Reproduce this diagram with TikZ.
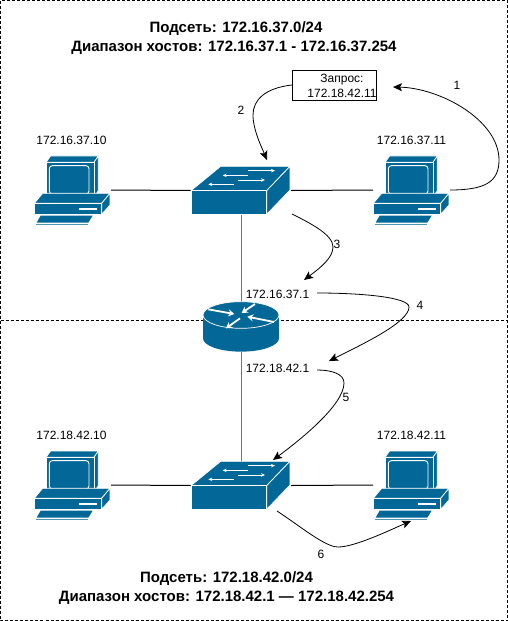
\documentclass[tikz,border=0pt]{standalone}
\usepackage{fontspec}
\setmainfont{Liberation Sans}
\usetikzlibrary{arrows.meta}
\definecolor{cisco}{HTML}{036897}
\tikzset{
  fillc/.style={fill=cisco,draw=white,line width=0.7pt,line join=round},
  wl/.style={draw=white,line width=0.9pt},
  warr/.style={draw=white,line width=0.9pt,-{Stealth[length=4pt,width=3.5pt]}},
  warb/.style={draw=white,line width=1.8pt,-{Stealth[length=6pt,width=7pt]}},
  iconbox/.style={inner sep=0pt,outer sep=0pt,minimum width=#1},
  lbl/.style={font=\fontsize{12}{15}\selectfont,inner sep=0pt},
  ttl/.style={font=\bfseries\fontsize{15}{18.5}\selectfont,inner sep=0pt,align=center},
  link/.style={draw=black,line width=1pt},
  curve/.style={draw=black,line width=0.8pt,-{Stealth[length=9pt,width=8pt,inset=2pt]}},
  border/.style={draw=black,line width=0.7pt,dash pattern=on 3pt off 2pt},
  pc/.pic={
    \begin{scope}[x=0.3333pt,y=-0.3333pt]
      \path[fillc] (78,127)--(92,108)--(235,108)--(222,127)--cycle;
      \path[fillc] (222,127)--(235,108)--(235,212)--(222,232)--cycle;
      \path[fillc] (78,127) rectangle (222,232);
      \path[wl,fill=cisco,rounded corners=3pt] (88,137) rectangle (207,222);
      \path[fillc] (43,250)--(68,220)--(270,220)--(245,250)--cycle;
      \path[fillc] (245,250)--(270,220)--(270,255)--(245,283)--cycle;
      \path[fillc] (43,250) rectangle (245,283);
      \path[fill=white] (178,265) rectangle (230,271);
      \path[fill=cisco] (62,287)--(218,287)--(205,308)--(50,308)--cycle;
      \path[draw=cisco!70,line width=0.8pt] (48,312)--(205,312);
    \end{scope}
  },
  sw/.pic={
    \begin{scope}[x=0.3333pt,y=-0.3333pt]
      \path[fillc] (33,122)--(122,49)--(330,49)--(260,122)--cycle;
      \path[fillc] (260,122)--(330,49)--(330,120)--(260,193)--cycle;
      \path[fillc] (33,122) rectangle (260,193);
      \path[warr] (205,62)--(285,62);
      \path[warr] (205,76)--(128,76);
      \path[warr] (175,90)--(255,90);
      \path[warr] (162,103)--(85,103);
    \end{scope}
  },
  rt/.pic={
    \begin{scope}[x=0.3333pt,y=-0.3333pt]
      \path[fill=cisco] (39,105)--(39,175) arc[start angle=180,end angle=0,x radius=114,y radius=40]--(267,105)--cycle;
      \path[fill=cisco,draw=white,line width=0.7pt] (153,105) ellipse[x radius=114,y radius=40];
      \path[warb] (55,88)--(133,102);
      \path[warb] (195,72)--(155,99);
      \path[warb] (150,115)--(108,145);
      \path[warb] (252,126)--(172,110);
    \end{scope}
  }
}
\begin{document}
\begin{tikzpicture}[x=1pt,y=-1pt]
\useasboundingbox (0,0) rectangle (508,621);
\path[fill=white] (0,0) rectangle (508,621);
\path[border] (0.5,0.5) rectangle (507.5,620.5);
\path[border] (0.5,320.5) -- (507.5,320.5);

% anchor boxes
\node[iconbox=77pt,minimum height=72pt] (pc1) at (72.5,190) {};
\node[iconbox=77pt,minimum height=72pt] (pc2) at (411.5,190) {};
\node[iconbox=77pt,minimum height=72pt] (pc3) at (72.5,485) {};
\node[iconbox=77pt,minimum height=72pt] (pc4) at (411.5,485) {};
\node[iconbox=100pt,minimum height=48pt] (sw1) at (241,190.5) {};
\node[iconbox=100pt,minimum height=48pt] (sw2) at (241,485.5) {};
\node[iconbox=76pt,minimum height=50pt] (rt1) at (241,327) {};

\draw[link] (pc1.east) -- (sw1.west);
\draw[link] (sw1.east) -- (pc2.west);
\draw[link] (pc3.east) -- (sw2.west);
\draw[link] (sw2.east) -- (pc4.west);
\draw[link,draw=black!55] (sw1.south) -- (rt1.north);
\draw[link,draw=black!55] (rt1.south) -- (sw2.north);

\pic at (20,120) {pc};
\pic at (359,120) {pc};
\pic at (20,415) {pc};
\pic at (359,415) {pc};
\pic at (180,150) {sw};
\pic at (180,445) {sw};
\pic at (190,280) {rt};

\node[draw=black,line width=0.8pt,minimum width=84pt,minimum height=30pt,inner sep=0pt] (req) at (334,85) {};
\node[lbl,align=center] (reqt) at (342,86) {Запрос:\\172.18.42.11};

\node[lbl] (l1) at (71.5,140) {172.16.37.10};
\node[lbl] (l2) at (411.5,140) {172.16.37.11};
\node[lbl] (l3) at (71.5,435) {172.18.42.10};
\node[lbl] (l4) at (411.5,435) {172.18.42.11};
\node[lbl] (l5) at (277.5,294) {172.16.37.1};
\node[lbl] (l6) at (277.5,368) {172.18.42.1};

\node[lbl] (n1) at (457,85) {1};
\node[lbl] (n2) at (241,110) {2};
\node[lbl] (n3) at (337,244.5) {3};
\node[lbl] (n4) at (420,305) {4};
\node[lbl] (n5) at (346,397.5) {5};
\node[lbl] (n6) at (321,554) {6};

\node[ttl] (t1) at (234,38) {\hspace*{4pt}Подсеть: 172.16.37.0/24\\Диапазон хостов: 172.16.37.1 - 172.16.37.254};
\node[ttl] (t2) at (226.5,588) {Подсеть: 172.18.42.0/24\\Диапазон хостов: 172.18.42.1 — 172.18.42.254};

\coordinate (a1) at (450,190);
\coordinate (b1) at (393,87);
\coordinate (a2) at (292,85);
\coordinate (b2) at (267,160);
\coordinate (a3) at (292,214);
\coordinate (b3) at (304,280);
\coordinate (a4) at (317,293);
\coordinate (b4) at (329,361);
\coordinate (a5) at (317,370);
\coordinate (b5) at (273,460);
\coordinate (a6) at (277,511);
\coordinate (b6) at (411,521);

\draw[curve] (a1) .. controls (485,190) and (499,182) .. (499,160) .. controls (499,120) and (440,88) .. (b1);
\draw[curve] (a2) .. controls (265,88) and (253,100) .. (253,115) .. controls (253,130) and (262,148) .. (b2);
\draw[curve] (a3) .. controls (312,224) and (333,235) .. (333,247) .. controls (333,258) and (320,268) .. (b3);
\draw[curve] (a4) .. controls (360,293) and (409,297) .. (409,307) .. controls (409,322) and (365,343) .. (b4);
\draw[curve] (a5) .. controls (332,370) and (344,374) .. (344,383) .. controls (344,405) and (300,440) .. (b5);
\draw[curve] (a6) .. controls (300,526) and (325,547) .. (338,547) .. controls (355,547) and (390,530) .. (b6);
\end{tikzpicture}
\end{document}
